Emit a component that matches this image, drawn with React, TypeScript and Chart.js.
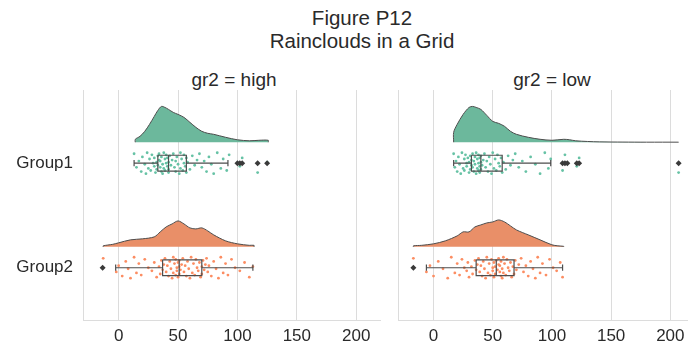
import React, { useEffect, useRef } from "react";
import { Chart, registerables } from "chart.js";

Chart.register(...registerables);

// ---------- data ----------
const SUPTITLE = ["Figure P12", "Rainclouds in a Grid"];
const PANEL_TITLES = ["gr2 = high", "gr2 = low"];
const CATEGORIES = ["Group1", "Group2"];
const X_TICKS = [0, 50, 100, 150, 200];

// raw observations (rain)
const HIGH_G1 = [
  13, 15, 17, 19, 20, 22, 23, 24, 25, 26, 27, 28, 29, 30, 30, 31, 32, 32, 33, 33,
  34, 34, 35, 35, 36, 36, 37, 37, 38, 38, 39, 39, 40, 40, 41, 41, 42, 42, 42, 43,
  44, 45, 46, 47, 48, 48, 49, 50, 51, 52, 52, 53, 54, 55, 55, 56, 57, 57,
  58, 60, 62, 64, 66, 68, 70, 72, 74, 76, 78, 80, 83, 86, 88, 91, 93, 100, 102, 104, 117, 125,
];
const HIGH_G2 = [
  -13, -2, 0, 3, 6, 8, 10, 13, 15, 17, 19, 22, 25, 28, 30, 32, 34, 35, 36, 37,
  38, 39, 40, 41, 42, 43, 44, 45, 46, 46, 47, 48, 48, 49, 49, 50, 50, 51, 51, 51,
  52, 53, 54, 55, 56, 57, 58, 59, 60, 61, 62, 63, 64, 65, 66, 67, 68, 69, 70, 70,
  71, 72, 73, 74, 75, 76, 78, 80, 82, 84, 86, 88, 90, 92, 95, 98, 102, 106, 110, 113,
];
const LOW_G1 = [
  17, 18, 19, 20, 21, 22, 23, 24, 25, 26, 26, 27, 28, 28, 29, 30, 30, 31, 31, 32,
  32, 33, 33, 34, 34, 35, 35, 36, 36, 37, 37, 38, 38, 38, 39, 39, 39, 40, 40, 40,
  41, 42, 43, 44, 45, 46, 47, 48, 49, 50, 51, 52, 53, 54, 55, 56, 57, 58,
  59, 61, 63, 65, 67, 69, 72, 75, 78, 82, 86, 90, 94, 97, 99, 109, 111, 113, 121, 123, 207,
];
const LOW_G2 = [
  -17, -6, -3, 0, 4, 8, 12, 15, 18, 20, 22, 24, 26, 28, 29, 30, 32, 33, 35, 36,
  37, 38, 39, 40, 41, 42, 43, 44, 45, 46, 47, 48, 49, 50, 50, 51, 51, 52, 52, 53,
  54, 55, 55, 56, 56, 57, 57, 58, 58, 59, 59, 60, 61, 62, 63, 64, 65, 66, 67, 68,
  69, 70, 72, 74, 76, 78, 80, 82, 84, 86, 88, 90, 92, 95, 98, 101, 104, 107, 109,
];

// box stats: [whiskerLow, q1, median, q3, whiskerHigh]
const BOX_HIGH_G1 = [13, 33, 42, 57, 92];
const BOX_HIGH_G2 = [-2.5, 37, 51, 70, 113];
const BOX_LOW_G1 = [17, 32, 40, 58, 99];
const BOX_LOW_G2 = [-6, 36, 53, 68, 109];

const OUT_HIGH_G1 = [100, 102, 104, 117, 125];
const OUT_HIGH_G2 = [-13.5];
const OUT_LOW_G1 = [109, 111, 113, 121, 123, 207];
const OUT_LOW_G2 = [-17];

// cloud (half-violin) density
const CLOUD_HIGH_G1_X = [14, 18, 22, 26, 30, 33, 36, 39, 42, 46, 50, 55, 60, 65, 70, 75, 80, 90, 100, 110, 118, 126];
const CLOUD_HIGH_G1_D = [3, 6, 11, 18, 26, 32, 36, 35, 33, 30, 28, 25, 20, 15, 11, 9, 8, 5, 2.5, 1.5, 2, 2];
const CLOUD_HIGH_G2_X = [-13, -5, 0, 10, 20, 30, 35, 40, 45, 50, 55, 60, 65, 70, 75, 80, 90, 100, 110, 114];
const CLOUD_HIGH_G2_D = [1, 2.5, 4, 7, 8, 10, 15, 20, 23, 26, 23, 19, 18, 19, 16, 12, 6, 3, 1.5, 1.5];
const CLOUD_LOW_G1_X = [17, 20, 25, 30, 33, 36, 40, 45, 50, 55, 60, 65, 70, 80, 90, 100, 110, 115, 120, 130, 140, 160, 180, 207];
const CLOUD_LOW_G1_D = [10, 18, 28, 35, 36, 35, 33, 27, 21, 19, 16, 11, 8, 5, 3, 2, 3, 2.5, 1.5, 0.8, 0.4, 0.2, 0.1, 0.1];
const CLOUD_LOW_G2_X = [-17, -10, 0, 10, 20, 25, 30, 35, 40, 45, 50, 55, 60, 65, 70, 80, 90, 100, 105, 110];
const CLOUD_LOW_G2_D = [1, 1.5, 3, 6, 11, 15, 15, 20, 22, 24, 25, 27, 25, 21, 17, 12, 7, 2, 1, 0.5];

// fixed jitter offsets for the rain
const JITTER = [-0.09, 0.04, -0.02, 0.08, -0.06, 0.01, 0.1, -0.1, 0.05, -0.04, 0.07, -0.08, 0.0, 0.03, -0.05, 0.09, -0.01, 0.06, -0.07, 0.02, -0.03];

// ---------- style ----------
const FONT = "'Liberation Sans', Arial, Helvetica, sans-serif";
const FILLS = ["#6cb89c", "#e98f68"];
const RAIN = ["#66c2a5", "#fc8d62"];
const EDGE = "#4d4d4d";
const GRID = "#dcdcdc";
const TEXT = "#2a2a2a";
const CLOUD_SCALE = 1 / 105;
const CLOUD_OFFSET = 0.2;
const BOX_HALF = 0.076;
const CAP_HALF = 0.03;

type GroupSpec = {
  rain: number[];
  box: number[];
  out: number[];
  cx: number[];
  cd: number[];
};

function groupDatasets(g: GroupSpec, idx: number) {
  const c = idx;
  const base = c - CLOUD_OFFSET;
  const n = g.cx.length;
  const cloud = [
    { x: g.cx[0], y: base },
    ...g.cx.map((x, i) => ({ x, y: base - g.cd[i] * CLOUD_SCALE })),
    { x: g.cx[n - 1], y: base },
  ];
  const [wl, q1, med, q3, wh] = g.box;
  const gap = { x: null as any, y: null as any };
  const box = [
    { x: wl, y: c }, { x: q1, y: c }, gap,
    { x: q3, y: c }, { x: wh, y: c }, gap,
    { x: wl, y: c - CAP_HALF }, { x: wl, y: c + CAP_HALF }, gap,
    { x: wh, y: c - CAP_HALF }, { x: wh, y: c + CAP_HALF }, gap,
    { x: q1, y: c - BOX_HALF }, { x: q3, y: c - BOX_HALF }, { x: q3, y: c + BOX_HALF },
    { x: q1, y: c + BOX_HALF }, { x: q1, y: c - BOX_HALF }, gap,
    { x: med, y: c - BOX_HALF }, { x: med, y: c + BOX_HALF },
  ];
  return [
    {
      type: "line",
      data: cloud,
      fill: { value: base },
      backgroundColor: FILLS[idx],
      borderColor: EDGE,
      borderWidth: 1,
      pointRadius: 0,
      tension: 0.3,
      order: 4,
    },
    {
      type: "scatter",
      data: g.rain.map((v, i) => ({ x: v, y: c + JITTER[i % JITTER.length] })),
      backgroundColor: RAIN[idx],
      borderWidth: 0,
      pointRadius: 1.4,
      order: 3,
    },
    {
      type: "line",
      data: box,
      fill: false,
      borderColor: EDGE,
      borderWidth: 1.2,
      pointRadius: 0,
      spanGaps: false,
      tension: 0,
      order: 2,
    },
    {
      type: "scatter",
      data: g.out.map((v) => ({ x: v, y: c })),
      pointStyle: "rectRot",
      backgroundColor: "#3a3a3a",
      borderColor: "#3a3a3a",
      borderWidth: 0,
      pointRadius: 3,
      order: 1,
    },
  ];
}

function makeConfig(groups: GroupSpec[], showY: boolean, yWidth: number, padRight: number) {
  return {
    type: "line",
    data: {
      datasets: groups.flatMap((g, i) => groupDatasets(g, i)),
    },
    options: {
      responsive: false,
      animation: false,
      events: [],
      layout: { padding: { top: 4, right: padRight, left: 0, bottom: 0 } },
      plugins: { legend: { display: false }, tooltip: { enabled: false }, title: { display: false } },
      scales: {
        x: {
          type: "linear",
          min: -30,
          max: 220,
          afterBuildTicks: (s: any) => {
            s.ticks = X_TICKS.map((v) => ({ value: v }));
          },
          afterFit: (s: any) => {
            s.height = 27;
            s.paddingLeft = 0;
            s.paddingRight = 0;
          },
          grid: { display: true, color: GRID, lineWidth: 1, drawTicks: false },
          border: { display: true, color: GRID, width: 1 },
          ticks: {
            padding: 6,
            color: TEXT,
            font: { family: FONT, size: 17 },
            maxRotation: 0,
            autoSkip: false,
          },
        },
        y: {
          type: "linear",
          reverse: true,
          min: -0.7,
          max: 1.5,
          afterBuildTicks: (s: any) => {
            s.ticks = CATEGORIES.map((_, i) => ({ value: i }));
          },
          afterFit: (s: any) => {
            s.width = yWidth;
            s.paddingTop = 0;
            s.paddingBottom = 0;
          },
          grid: { display: false, drawTicks: false },
          border: { display: true, color: GRID, width: 1 },
          ticks: {
            display: showY,
            padding: 10,
            color: TEXT,
            font: { family: FONT, size: 17 },
            callback: (v: any) => CATEGORIES[Math.round(v)] ?? "",
          },
        },
      },
    },
  };
}

const HIGH: GroupSpec[] = [
  { rain: HIGH_G1, box: BOX_HIGH_G1, out: OUT_HIGH_G1, cx: CLOUD_HIGH_G1_X, cd: CLOUD_HIGH_G1_D },
  { rain: HIGH_G2, box: BOX_HIGH_G2, out: OUT_HIGH_G2, cx: CLOUD_HIGH_G2_X, cd: CLOUD_HIGH_G2_D },
];
const LOW: GroupSpec[] = [
  { rain: LOW_G1, box: BOX_LOW_G1, out: OUT_LOW_G1, cx: CLOUD_LOW_G1_X, cd: CLOUD_LOW_G1_D },
  { rain: LOW_G2, box: BOX_LOW_G2, out: OUT_LOW_G2, cx: CLOUD_LOW_G2_X, cd: CLOUD_LOW_G2_D },
];

export default function App() {
  const leftRef = useRef<HTMLCanvasElement>(null);
  const rightRef = useRef<HTMLCanvasElement>(null);

  useEffect(() => {
    const a = new Chart(leftRef.current as HTMLCanvasElement, makeConfig(HIGH, true, 83, 8) as any);
    const b = new Chart(rightRef.current as HTMLCanvasElement, makeConfig(LOW, false, 10, 3) as any);
    return () => {
      a.destroy();
      b.destroy();
    };
  }, []);

  const textStyle = (x: number, y: number, size: number): React.CSSProperties => ({
    position: "absolute",
    left: x,
    top: y,
    transform: "translate(-50%, -50%)",
    fontFamily: FONT,
    fontSize: size,
    color: TEXT,
    whiteSpace: "nowrap",
    lineHeight: 1,
  });

  return (
    <div
      style={{
        position: "absolute",
        left: 0,
        top: 0,
        width: 688,
        height: 347,
        overflow: "hidden",
        background: "#ffffff",
      }}
    >
      <div style={textStyle(362, 18, 20.5)}>{SUPTITLE[0]}</div>
      <div style={textStyle(362, 41, 20.5)}>{SUPTITLE[1]}</div>
      <div style={textStyle(234, 79, 19)}>{PANEL_TITLES[0]}</div>
      <div style={textStyle(552, 79, 19)}>{PANEL_TITLES[1]}</div>
      <canvas
        ref={leftRef}
        width={388}
        height={261}
        style={{ position: "absolute", left: 0, top: 86, width: 388, height: 261 }}
      />
      <canvas
        ref={rightRef}
        width={310}
        height={261}
        style={{ position: "absolute", left: 388, top: 86, width: 310, height: 261 }}
      />
    </div>
  );
}
